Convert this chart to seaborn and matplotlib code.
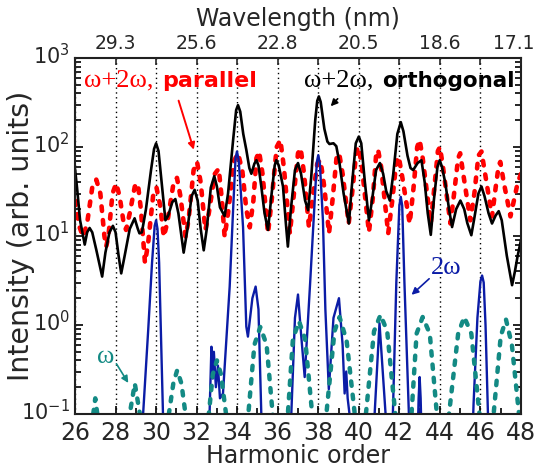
import matplotlib
matplotlib.use("Agg")
import matplotlib.pyplot as plt
import matplotlib.ticker as mticker
import matplotlib.transforms as mtransforms
import seaborn as sns
import numpy as np

# Harmonic spectra (harmonic order, intensity)
ortho_h = [26.0, 26.1, 26.25, 26.48, 26.6, 26.72, 26.85, 27.05, 27.34, 27.5, 27.7, 27.87,
           28.0, 28.15, 28.28, 28.45, 28.7, 28.94, 29.1, 29.18, 29.3, 29.5, 29.75, 29.9,
           30.0, 30.12, 30.3, 30.46, 30.6, 30.8, 30.95, 31.1, 31.36, 31.55, 31.75, 31.9,
           32.05, 32.2, 32.35, 32.5, 32.7, 32.87, 33.0, 33.15, 33.38, 33.55, 33.8, 33.95,
           34.04, 34.15, 34.3, 34.45, 34.6, 34.7, 34.85, 34.95, 35.05, 35.19, 35.35, 35.52,
           35.7, 35.85, 35.93, 36.05, 36.26, 36.4, 36.5, 36.65, 36.85, 37.0, 37.15, 37.35,
           37.5, 37.65, 37.85, 37.95, 38.03, 38.12, 38.3, 38.45, 38.55, 38.75, 38.89, 39.05,
           39.25, 39.51, 39.65, 39.85, 40.0, 40.12, 40.3, 40.5, 40.65, 40.85, 41.04, 41.2,
           41.35, 41.53, 41.7, 41.9, 42.07, 42.2, 42.4, 42.55, 42.68, 42.9, 43.09, 43.25,
           43.4, 43.55, 43.7, 43.88, 43.99, 44.1, 44.27, 44.45, 44.6, 44.8, 45.01, 45.2,
           45.35, 45.55, 45.7, 45.9, 46.05, 46.2, 46.4, 46.57, 46.75, 46.9, 47.05, 47.3,
           47.56, 47.7, 47.83, 48.0]
ortho_v = [57, 35, 15, 8.0, 11, 12.3, 11, 7, 3.5, 6.5, 11, 13,
           11, 6, 3.8, 6, 12, 15.8, 12, 10.7, 11, 20, 55, 95,
           110, 90, 35, 15, 17, 24, 26, 18, 6.5, 12, 28, 33,
           25, 12, 6.9, 12, 35, 47, 36, 21, 16.7, 30, 120, 260,
           295, 250, 140, 93, 58, 50, 65, 71, 62, 36, 18, 11.7,
           30, 62, 71, 62, 36, 14, 7.6, 20, 55, 66, 50, 25,
           19.5, 45, 200, 330, 370, 320, 160, 115, 108, 110, 102, 65,
           30, 13.8, 35, 110, 131, 110, 40, 15, 25, 55, 66, 50,
           32, 25, 50, 140, 190, 150, 80, 58, 55, 66, 71, 40,
           18, 10.3, 25, 60, 71, 60, 39, 20, 12.6, 20, 25, 20,
           14, 10.2, 16, 30, 36, 28, 18, 13.8, 17, 19, 15, 6,
           2.8, 4, 5.9, 9]

par_h = [26.0, 26.2, 26.4, 26.6, 26.85, 27.05, 27.25, 27.45, 27.54, 27.65, 27.85, 28.03,
         28.2, 28.4, 28.52, 28.7, 28.95, 29.1, 29.25, 29.45, 29.6, 29.85, 30.02, 30.2,
         30.38, 30.55, 30.85, 31.03, 31.2, 31.45, 31.6, 31.85, 32.02, 32.2, 32.43, 32.6,
         32.9, 33.09, 33.25, 33.38, 33.55, 33.85, 34.04, 34.25, 34.45, 34.62, 34.8, 34.95,
         35.08, 35.25, 35.52, 35.7, 35.95, 36.13, 36.3, 36.6, 36.8, 37.0, 37.13, 37.3,
         37.54, 37.75, 37.95, 38.11, 38.3, 38.53, 38.7, 38.9, 39.03, 39.2, 39.5, 39.7,
         39.88, 40.0, 40.15, 40.5, 40.7, 40.85, 40.95, 41.1, 41.45, 41.65, 41.85, 41.97,
         42.15, 42.51, 42.7, 42.88, 43.0, 43.15, 43.55, 43.75, 43.9, 44.0, 44.15, 44.52,
         44.7, 44.9, 45.0, 45.15, 45.5, 45.7, 45.9, 46.05, 46.2, 46.57, 46.75, 46.9,
         46.98, 47.15, 47.48, 47.65, 47.83, 48.0]
par_v = [25, 13, 9.8, 14, 35, 43, 30, 10, 7.6, 10, 30, 39,
         28, 14, 11.7, 18, 36, 39, 20, 5, 8, 28, 35, 22,
         9.8, 14, 38, 45, 28, 9.8, 15, 55, 68, 40, 11.7, 18,
         50, 57, 25, 9.8, 18, 70, 85, 55, 20, 12.5, 25, 75,
         89, 50, 10.7, 25, 100, 120, 60, 10.7, 30, 85, 97, 50,
         12.5, 30, 65, 71, 35, 10.7, 25, 75, 85, 50, 13.8, 35,
         90, 100, 60, 11, 28, 80, 93, 60, 10.7, 25, 68, 78,
         45, 13.8, 35, 100, 120, 75, 13.8, 40, 90, 100, 60, 13.8,
         30, 75, 85, 50, 15, 30, 80, 89, 55, 16.6, 35, 62,
         68, 40, 16.6, 25, 39, 50]

two_w_h = [29.3, 29.36, 29.61, 29.8, 29.93, 30.0, 30.07, 30.15, 30.34, 30.4, 32.6, 32.73,
           32.8, 32.85, 32.95, 33.05, 33.15, 33.3, 33.63, 33.8, 33.92, 33.99, 34.07, 34.15,
           34.29, 34.45, 34.53, 34.75, 34.91, 35.05, 35.19, 35.25, 36.6, 36.67, 36.85, 37.0,
           37.15, 37.33, 37.6, 37.8, 37.93, 38.0, 38.08, 38.23, 38.35, 38.52, 38.75, 39.02,
           39.2, 39.3, 39.38, 39.45, 39.54, 39.6, 40.7, 40.78, 41.02, 41.32, 41.4, 41.6,
           41.68, 41.85, 42.0, 42.07, 42.14, 42.25, 42.47, 42.55, 42.9, 42.95, 43.0, 43.05,
           43.1, 45.6, 45.66, 45.85, 46.0, 46.08, 46.16, 46.25, 46.37, 46.45]
two_w_v = [0.05, 0.1, 0.87, 5, 13, 15, 12, 5, 0.1, 0.05, 0.05, 0.57,
           0.25, 0.5, 0.2, 0.35, 0.15, 0.17, 2.7, 20, 75, 89, 72, 40,
           12.5, 0.96, 0.74, 2.0, 2.7, 1.5, 0.1, 0.05, 0.05, 0.1, 1.2, 2.2,
           0.8, 0.26, 3, 20, 68, 81, 65, 15, 1.5, 0.19, 1.2, 2.0,
           0.6, 0.17, 0.3, 0.15, 0.1, 0.05, 0.05, 0.1, 1.05, 0.1, 0.05, 0.05,
           0.1, 3, 22, 27.5, 22, 3, 0.1, 0.05, 0.05, 0.15, 0.26, 0.15,
           0.05, 0.05, 0.13, 1.2, 3.1, 3.6, 3.0, 1.0, 0.1, 0.05]

one_w_h = [26.8, 26.9, 27.0, 27.1, 27.2, 28.6, 28.7, 28.95, 29.2, 29.3, 30.5, 30.63,
           30.85, 31.04, 31.25, 31.45, 31.55, 32.5, 32.6, 32.8, 33.0, 33.2, 33.45, 33.55,
           34.4, 34.55, 34.85, 35.14, 35.45, 35.75, 35.85, 36.4, 36.5, 36.75, 37.05, 37.35,
           37.7, 37.8, 38.3, 38.4, 38.8, 39.05, 39.4, 39.8, 39.9, 40.2, 40.35, 40.75,
           41.07, 41.4, 41.8, 41.9, 42.45, 42.6, 42.85, 43.15, 43.5, 43.85, 43.95, 44.3,
           44.45, 44.9, 45.2, 45.55, 45.95, 46.05, 46.5, 46.65, 47.0, 47.26, 47.55, 47.9]
one_w_v = [0.05, 0.1, 0.15, 0.1, 0.05, 0.05, 0.1, 0.22, 0.1, 0.05, 0.05, 0.1,
           0.22, 0.31, 0.22, 0.1, 0.05, 0.05, 0.1, 0.28, 0.4, 0.28, 0.1, 0.05,
           0.05, 0.1, 0.6, 0.95, 0.6, 0.1, 0.05, 0.05, 0.1, 0.7, 1.1, 0.7,
           0.1, 0.05, 0.05, 0.1, 0.85, 1.23, 0.66, 0.1, 0.05, 0.05, 0.1, 0.85,
           1.3, 0.85, 0.1, 0.05, 0.05, 0.1, 0.8, 1.23, 0.8, 0.1, 0.05, 0.05,
           0.1, 0.8, 1.23, 0.8, 0.1, 0.05, 0.05, 0.1, 0.75, 1.15, 0.6, 0.1]

# Axis ticks
harm_ticks = [26, 28, 30, 32, 34, 36, 38, 40, 42, 44, 46, 48]
wl_ticks = [28, 32, 36, 40, 44, 48]
wl_labels = ["29.3", "25.6", "22.8", "20.5", "18.6", "17.1"]

sns.set_theme(style="ticks")
plt.rcParams["font.family"] = ["DejaVu Sans"]
plt.rcParams["mathtext.default"] = "regular"

fig = plt.figure(figsize=(5.38, 4.66), dpi=100)
ax = fig.add_axes([0.1394, 0.1116, 0.829, 0.764])

red = "#ff0000"
navy = "#0b1ca6"
teal = "#138a84"

sns.lineplot(x=par_h, y=par_v, ax=ax, color=red, linewidth=3.3,
             linestyle=(0, (1, 2)), dash_capstyle="round", sort=False, estimator=None)
sns.lineplot(x=ortho_h, y=ortho_v, ax=ax, color="black", linewidth=1.9,
             sort=False, estimator=None)
sns.lineplot(x=two_w_h, y=two_w_v, ax=ax, color=navy, linewidth=1.7,
             sort=False, estimator=None)
sns.lineplot(x=one_w_h, y=one_w_v, ax=ax, color=teal, linewidth=3.2,
             linestyle=(0, (1, 2)), dash_capstyle="round", sort=False, estimator=None)

ax.set_yscale("log")
ax.set_xlim(26, 48)
ax.set_ylim(0.1, 1000)
ax.set_xticks(harm_ticks)
ax.xaxis.set_minor_locator(mticker.MultipleLocator(1))
ax.yaxis.set_major_locator(mticker.LogLocator(base=10))
ax.yaxis.set_minor_locator(mticker.LogLocator(base=10, subs=np.arange(2, 10)))
ax.yaxis.set_minor_formatter(mticker.NullFormatter())
ax.tick_params(which="both", direction="in", right=True, top=False,
               width=1.2, color="black")
ax.tick_params(axis="x", labelsize=17, pad=5)
ax.tick_params(axis="y", labelsize=15)
ax.tick_params(which="major", length=6)
ax.tick_params(which="minor", length=4)
ax.grid(axis="x", which="major", color="black", linestyle=(0, (1, 2.5)), linewidth=1)
for sp in ax.spines.values():
    sp.set_linewidth(1.5)
    sp.set_color("black")

# y tick labels sit slightly above their ticks in the original
shift_up = mtransforms.ScaledTranslation(0, 3 / 72, fig.dpi_scale_trans)
for lbl in ax.get_yticklabels():
    lbl.set_transform(lbl.get_transform() + shift_up)

ax.set_xlabel("Harmonic order", fontsize=17, labelpad=-1)
ax.set_ylabel("Intensity (arb. units)", fontsize=20.5)
ax.yaxis.set_label_coords(-0.09, 0.5)

top = ax.twiny()
top.set_xlim(26, 48)
top.set_xticks(wl_ticks)
top.set_xticklabels(wl_labels)
top.xaxis.set_minor_locator(mticker.FixedLocator([30, 34, 38, 42, 46]))
top.tick_params(which="both", direction="in", labelsize=13.5, width=1.2, length=5)
top.set_xlabel("Wavelength (nm)", fontsize=17, labelpad=6)

# keep the last wavelength label inside the canvas
shift_left = mtransforms.ScaledTranslation(-5 / 72, 0, fig.dpi_scale_trans)
last_lbl = top.get_xticklabels()[-1]
last_lbl.set_transform(last_lbl.get_transform() + shift_left)

# Annotations
ax.text(26.45, 476, "ω+2ω,", color=red, fontsize=19, family="Liberation Serif",
        va="baseline")
ax.text(30.3, 476, "parallel", color=red, fontsize=16, fontweight="bold",
        va="baseline")
ax.annotate("", xy=(31.9, 87), xytext=(31.07, 355),
            arrowprops=dict(arrowstyle="-|>", color=red, lw=1.4, mutation_scale=10))

ax.text(37.3, 476, "ω+2ω,", color="black", fontsize=19, family="Liberation Serif",
        va="baseline")
ax.text(41.15, 476, "orthogonal", color="black", fontsize=15.5, fontweight="bold",
        va="baseline")
ax.annotate("", xy=(38.52, 272), xytext=(39.05, 367),
            arrowprops=dict(arrowstyle="-|>", color="black", lw=1.2, mutation_scale=10))

ax.text(44.3, 4.4, "2ω", color=navy, fontsize=19, family="Liberation Serif",
        ha="center", va="center")
ax.annotate("", xy=(42.5, 2.08), xytext=(43.57, 3.47),
            arrowprops=dict(arrowstyle="-|>", color=navy, lw=1.2, mutation_scale=10))

ax.text(27.5, 0.44, "ω", color=teal, fontsize=19, family="Liberation Serif",
        ha="center", va="center")
ax.annotate("", xy=(28.7, 0.21), xytext=(27.97, 0.39),
            arrowprops=dict(arrowstyle="-|>", color=teal, lw=1.2, mutation_scale=10))

fig.savefig("out.png", dpi=100)
